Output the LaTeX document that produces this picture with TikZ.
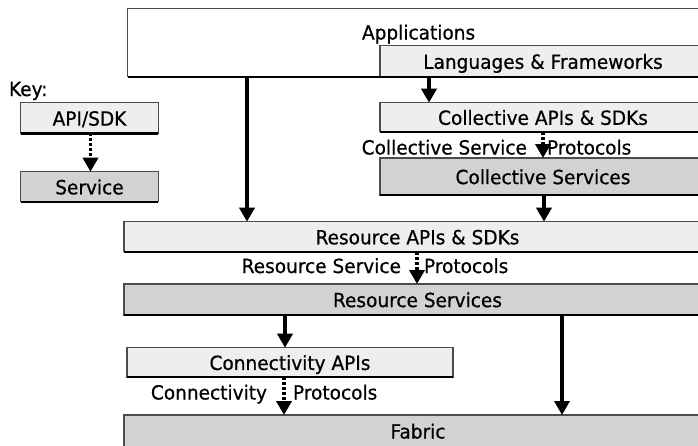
\documentclass[tikz,border=0pt]{standalone}
\usepackage{fontspec}
\setmainfont{DejaVu Sans}[FakeStretch=0.95,FakeBold=0.6]
\usetikzlibrary{arrows.meta}
\definecolor{apifill}{HTML}{EEEEEE}
\definecolor{svcfill}{HTML}{D2D2D2}
\begin{document}
\begin{tikzpicture}[x=1pt,y=-1pt,
  every node/.style={font=\fontsize{19.5}{23}\selectfont, inner sep=0pt, outer sep=0pt},
  boxbase/.style={draw=black!70, line width=1.2pt, anchor=north west,
    text height=15.2pt, text depth=0pt},
  appbox/.style={boxbase, fill=white},
  apibox/.style={boxbase, fill=apifill},
  svcbox/.style={boxbase, fill=svcfill},
  botline/.style={draw=black, line width=2.4pt},
  arr/.style={draw=black, line width=3.5pt, -{Triangle[length=14pt,width=15pt]}},
  darr/.style={draw=black, line width=3.5pt, dash pattern=on 3pt off 2pt, -{Triangle[length=14pt,width=15pt]}},
  lbl/.style={anchor=base}
]
\useasboundingbox (0,0) rectangle (698,445);
\clip (0,0) rectangle (698,445);

% Key
\node[anchor=base west] (key) at (9,96) {Key:};
\node[apibox, minimum width=137.6pt, minimum height=30.6pt] (keyapi) at (20.7,102.7) {API/SDK};
\draw[botline] (keyapi.south west) -- (keyapi.south east);
\node[svcbox, minimum width=137.6pt, minimum height=30pt] (keysvc) at (20.7,171.7) {Service};
\draw[botline] (keysvc.south west) -- (keysvc.south east);

% Applications
\node[appbox, minimum width=600pt, minimum height=68.4pt] (app) at (127.7,8.3) {};
\node[anchor=base west] (apptxt) at (362,39.5) {Applications};
\node[apibox, minimum width=326pt, minimum height=31pt] (lang) at (380,45.7) {Languages \& Frameworks};
\draw[botline] (app.south west) -- (lang.south east);

% Collective
\node[apibox, minimum width=326pt, minimum height=29pt] (colapi) at (380,102.7) {Collective APIs \& SDKs};
\draw[botline] (colapi.south west) -- (colapi.south east);
\node[svcbox, minimum width=326pt, minimum height=37pt] (colsvc) at (380,158) {Collective Services};
\draw[botline] (colsvc.south west) -- (colsvc.south east);
\node[anchor=base east] (colsp) at (527,154.5) {Collective Service};
\node[anchor=base west] (colpr) at (547,154.5) {Protocols};

% Resource
\node[apibox, minimum width=600pt, minimum height=30pt] (resapi) at (124,221.7) {};
\draw[botline] (resapi.south west) -- (resapi.south east);
\node[text height=15.2pt, text depth=0pt] (resapitxt) at (417.5,236.7) {Resource APIs \& SDKs};
\node[svcbox, minimum width=600pt, minimum height=31pt] (ressvc) at (124,284) {};
\draw[botline] (ressvc.south west) -- (ressvc.south east);
\node[text height=15.2pt, text depth=0pt] (ressvctxt) at (417.5,299.5) {Resource Services};
\node[anchor=base east] (ressp) at (401,273) {Resource Service};
\node[anchor=base west] (respr) at (424,273) {Protocols};

% Connectivity
\node[apibox, minimum width=326pt, minimum height=29.3pt] (conapi) at (127,347.7) {Connectivity APIs};
\draw[botline] (conapi.south west) -- (conapi.south east);
\node[anchor=base east] (consp) at (267,399.5) {Connectivity};
\node[anchor=base west] (conpr) at (293,399.5) {Protocols};

% Fabric
\node[svcbox, minimum width=600pt, minimum height=45pt] (fabric) at (124,415) {};
\node[anchor=base] (fabtxt) at (418,438.5) {Fabric};

% solid arrows
\draw[arr] (247,0 |- app.south) -- (247,0 |- resapi.north);
\draw[arr] (429,0 |- lang.south) -- (429,0 |- colapi.north);
\draw[arr] (544,0 |- colsvc.south) -- (544,0 |- resapi.north);
\draw[arr] (285,0 |- ressvc.south) -- (285,0 |- conapi.north);
\draw[arr] (562,0 |- ressvc.south) -- (562,0 |- fabric.north);

% dashed arrows
\draw[darr] (90.5,0 |- keyapi.south) -- (90.5,0 |- keysvc.north);
\draw[darr] (543,0 |- colapi.south) -- (543,0 |- colsvc.north);
\draw[darr] (417,0 |- resapi.south) -- (417,0 |- ressvc.north);
\draw[darr] (284,0 |- conapi.south) -- (284,0 |- fabric.north);
\end{tikzpicture}
\end{document}
